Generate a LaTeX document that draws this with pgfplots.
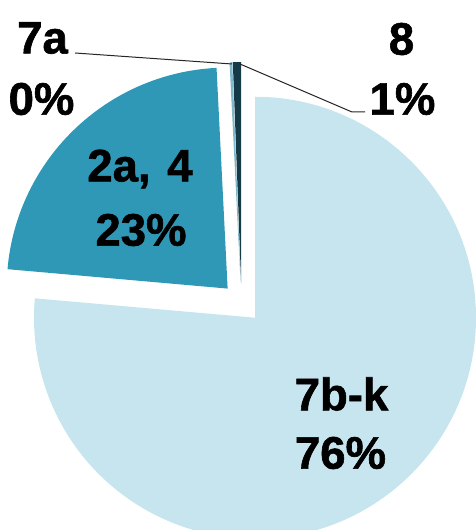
\documentclass[border=0pt]{standalone}
\usepackage{pgfplots}
\pgfplotsset{compat=1.18}
\usepackage{pgfplotstable}
\usepackage{fontspec}
\setmainfont{Liberation Sans}
\newfontfamily\heavy{Liberation Sans}[BoldFeatures={FakeBold=1.3}]
\usetikzlibrary{calc}

\definecolor{c7bk}{HTML}{C6E5EE}
\definecolor{c2a4}{HTML}{2E98B6}
\definecolor{c7a}{HTML}{7FB9CB}
\definecolor{c8}{HTML}{153A48}

% share of each slice in percent, clockwise from 12 o'clock
\pgfplotstableread{
label value colour
7b-k  76.4 c7bk
2a4   22.8 c2a4
7a     0.2 c7a
8      0.6 c8
}\piedata

\newcommand\lbl{\fontsize{45.5}{50}\heavy\bfseries}

% turn the table into slice paths (centre 241.5,227; radius 221; exploded 20)
\gdef\acc{90}
\gdef\piedraw{}
\pgfplotstablegetrowsof{\piedata}
\pgfmathtruncatemacro\lastrow{\pgfplotsretval-1}
\foreach \i in {0,...,\lastrow}{%
  \pgfplotstablegetelem{\i}{value}\of\piedata
  \let\v\pgfplotsretval
  \pgfplotstablegetelem{\i}{colour}\of\piedata
  \let\col\pgfplotsretval
  \pgfmathsetmacro\e{\acc-3.6*\v}%
  \pgfmathsetmacro\m{(\acc+\e)/2}%
  \xdef\piedraw{\unexpanded\expandafter{\piedraw}%
    \noexpand\fill[\col] ($(axis cs:241.5,227)+(\m:20pt)$) -- ++(\acc:221pt)
    arc[start angle=\acc, end angle=\e, radius=221pt] -- cycle;}%
  \xdef\acc{\e}%
}

\begin{document}
\begin{tikzpicture}
\begin{axis}[
    hide axis,
    x=1pt, y=1pt,
    xmin=0, xmax=476,
    ymin=0, ymax=530,
    clip=true
]
\piedraw
\draw[black!85, line width=1pt] (axis cs:75,477) -- (axis cs:232,466);
\draw[black!85, line width=1pt] (axis cs:240,466) -- (axis cs:352,418) -- (axis cs:365,418);
\node[font=\lbl] at (axis cs:42.5,492) {7a};
\node[font=\lbl] at (axis cs:41.5,431) {0\%};
\node[font=\lbl] at (axis cs:401.5,491) {8};
\node[font=\lbl] at (axis cs:402.5,431) {1\%};
\node[font=\lbl] at (axis cs:140,361) {2a,\kern4pt{} 4};
\node[font=\lbl] at (axis cs:141,300) {23\%};
\node[font=\lbl] at (axis cs:341.5,136) {7b-k};
\node[font=\lbl] at (axis cs:340.5,77) {76\%};
\coordinate (sw) at (axis cs:0,0);
\coordinate (ne) at (axis cs:476,530);
\end{axis}
\pgfresetboundingbox
\path[use as bounding box] (sw) rectangle (ne);
\end{tikzpicture}
\end{document}
